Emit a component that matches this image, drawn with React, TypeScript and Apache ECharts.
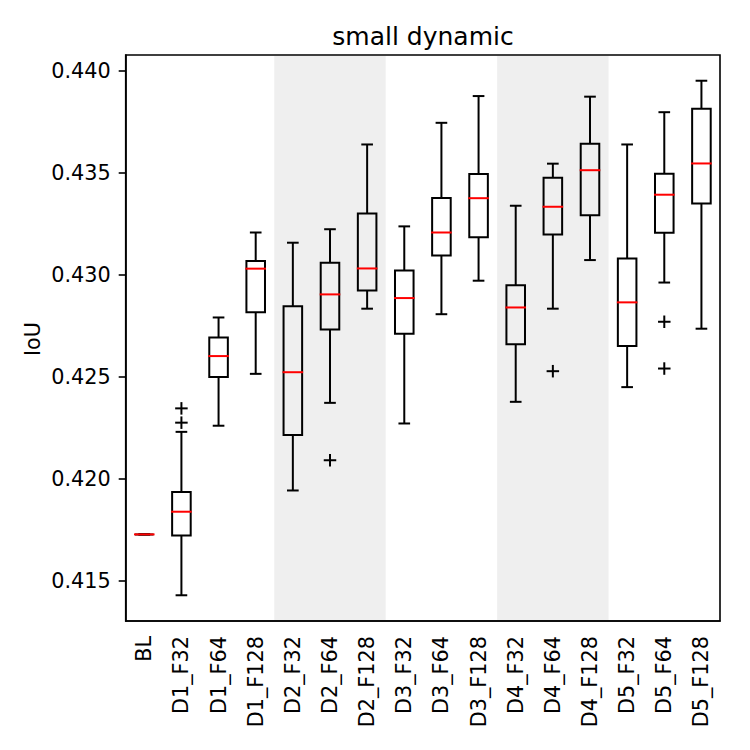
import React, { useEffect, useRef } from "react";
import * as echarts from "echarts";

// Box-plot statistics per configuration (IoU)
const categories = [
  "BL", "D1_F32", "D1_F64", "D1_F128", "D2_F32", "D2_F64", "D2_F128",
  "D3_F32", "D3_F64", "D3_F128", "D4_F32", "D4_F64", "D4_F128",
  "D5_F32", "D5_F64", "D5_F128",
];
const whiskerLow = [0.41729, 0.41431, 0.42261, 0.42515, 0.41944, 0.42373, 0.42834, 0.42272, 0.42807, 0.42971, 0.42378, 0.42834, 0.43072, 0.4245, 0.42962, 0.42736];
const q1 = [0.41729, 0.41724, 0.42499, 0.42816, 0.42215, 0.42732, 0.42923, 0.42711, 0.43095, 0.43184, 0.4266, 0.43197, 0.43292, 0.42651, 0.43206, 0.43349];
const median = [0.41729, 0.4184, 0.42602, 0.4303, 0.42523, 0.42904, 0.43031, 0.42886, 0.43207, 0.43375, 0.4284, 0.43333, 0.43512, 0.42865, 0.43392, 0.43545];
const q3 = [0.41729, 0.41936, 0.42693, 0.43067, 0.42846, 0.43059, 0.433, 0.43021, 0.43376, 0.43493, 0.42949, 0.43475, 0.43642, 0.4308, 0.43495, 0.43813];
const whiskerHigh = [0.41729, 0.42231, 0.42791, 0.43207, 0.43157, 0.43223, 0.43638, 0.43237, 0.43744, 0.43875, 0.43338, 0.43544, 0.43872, 0.43638, 0.43796, 0.4395];

// Fliers
const outlierCats = ["D1_F32", "D1_F32", "D2_F64", "D4_F64", "D5_F64", "D5_F64"];
const outlierVals = [0.42276, 0.42346, 0.42092, 0.42528, 0.4277, 0.42541];

// Shaded groups (first and last category of each)
const shadedGroups = [
  ["D2_F32", "D2_F128"],
  ["D4_F32", "D4_F128"],
];

const yTicks = [0.415, 0.42, 0.425, 0.43, 0.435, 0.44];
const Y_MIN = 0.41305;
const Y_MAX = 0.44076;

const FONT = "DejaVu Sans";

export default function App() {
  const ref = useRef<HTMLDivElement>(null);

  useEffect(() => {
    const chart = echarts.init(ref.current!, null, { renderer: "svg" });

    const boxData = categories.map((_, i) => [
      i, whiskerLow[i], q1[i], median[i], q3[i], whiskerHigh[i],
    ]);
    const outlierData = outlierCats.map((c, k) => [categories.indexOf(c), outlierVals[k]]);
    const shadeData = shadedGroups.map((g) => [categories.indexOf(g[0]), categories.indexOf(g[1])]);

    const black = { stroke: "#000", lineWidth: 2, fill: "none" };

    const option: any = {
      animation: false,
      backgroundColor: "#fff",
      textStyle: { fontFamily: FONT },
      grid: {
        left: 125.7,
        right: 30,
        top: 55,
        bottom: 129,
        show: true,
        borderColor: "#000",
        borderWidth: 1.6,
        backgroundColor: "transparent",
      },
      xAxis: {
        type: "category",
        data: categories,
        boundaryGap: true,
        axisLine: { lineStyle: { color: "#000", width: 1.6 } },
        axisTick: {
          alignWithLabel: true,
          interval: 0,
          length: 7,
          lineStyle: { color: "#000", width: 1.6 },
        },
        axisLabel: {
          interval: 0,
          rotate: 90,
          margin: 15,
          fontSize: 20.8,
          fontFamily: FONT,
          color: "#000",
        },
        splitLine: { show: false },
      },
      yAxis: {
        type: "value",
        min: Y_MIN,
        max: Y_MAX,
        axisLine: { show: true, lineStyle: { color: "#000", width: 1.6 } },
        axisTick: {
          show: true,
          length: 7,
          customValues: yTicks,
          lineStyle: { color: "#000", width: 1.6 },
        },
        axisLabel: {
          customValues: yTicks,
          formatter: (v: number) => v.toFixed(3),
          fontSize: 20.8,
          fontFamily: FONT,
          color: "#000",
          margin: 15,
        },
        splitLine: { show: false },
      },
      graphic: [
        {
          type: "text",
          x: 423,
          y: 36,
          style: {
            text: "small dynamic",
            fontSize: 25,
            fontFamily: FONT,
            fill: "#000",
            align: "center",
            verticalAlign: "middle",
          },
        },
        {
          type: "text",
          x: 33,
          y: 339,
          rotation: Math.PI / 2,
          style: {
            text: "IoU",
            fontSize: 20.8,
            fontFamily: FONT,
            fill: "#000",
            align: "center",
            verticalAlign: "middle",
          },
        },
      ],
      series: [
        {
          type: "custom",
          z: 1,
          silent: true,
          data: shadeData,
          encode: { x: 0 },
          renderItem: (params: any, api: any) => {
            const cs = params.coordSys;
            const band = api.size([1, 0])[0];
            const x0 = api.coord([api.value(0), Y_MIN])[0] - band / 2;
            const x1 = api.coord([api.value(1), Y_MIN])[0] + band / 2;
            return {
              type: "rect",
              shape: { x: x0, y: cs.y + 1, width: x1 - x0, height: cs.height - 2 },
              style: { fill: "#efefef" },
            };
          },
        },
        {
          type: "custom",
          z: 3,
          data: boxData,
          encode: { x: 0, y: [1, 2, 3, 4, 5] },
          renderItem: (params: any, api: any) => {
            const i = api.value(0);
            const band = api.size([1, 0])[0];
            const hw = band * 0.25;
            const cap = band * 0.13;
            const cx = api.coord([i, api.value(3)])[0];
            const yLo = api.coord([i, api.value(1)])[1];
            const yQ1 = api.coord([i, api.value(2)])[1];
            const yMed = api.coord([i, api.value(3)])[1];
            const yQ3 = api.coord([i, api.value(4)])[1];
            const yHi = api.coord([i, api.value(5)])[1];
            return {
              type: "group",
              children: [
                { type: "line", shape: { x1: cx, y1: yQ3, x2: cx, y2: yHi }, style: black },
                { type: "line", shape: { x1: cx, y1: yQ1, x2: cx, y2: yLo }, style: black },
                { type: "line", shape: { x1: cx - cap, y1: yHi, x2: cx + cap, y2: yHi }, style: { ...black, lineCap: "square" } },
                { type: "line", shape: { x1: cx - cap, y1: yLo, x2: cx + cap, y2: yLo }, style: { ...black, lineCap: "square" } },
                { type: "rect", shape: { x: cx - hw, y: yQ3, width: hw * 2, height: yQ1 - yQ3 }, style: black },
                {
                  type: "line",
                  shape: { x1: cx - hw - 1, y1: yMed, x2: cx + hw + 1, y2: yMed },
                  style: { stroke: "#ff0000", lineWidth: 2 },
                },
              ],
            };
          },
        },
        {
          type: "custom",
          z: 3,
          data: outlierData,
          encode: { x: 0, y: 1 },
          renderItem: (params: any, api: any) => {
            const p = api.coord([api.value(0), api.value(1)]);
            const h = 6.25;
            return {
              type: "group",
              children: [
                { type: "line", shape: { x1: p[0] - h, y1: p[1], x2: p[0] + h, y2: p[1] }, style: black },
                { type: "line", shape: { x1: p[0], y1: p[1] - h, x2: p[0], y2: p[1] + h }, style: black },
              ],
            };
          },
        },
      ],
    };

    chart.setOption(option);
    return () => chart.dispose();
  }, []);

  return (
    <div
      ref={ref}
      style={{ position: "fixed", left: 0, top: 0, width: 750, height: 750, background: "#fff" }}
    />
  );
}
